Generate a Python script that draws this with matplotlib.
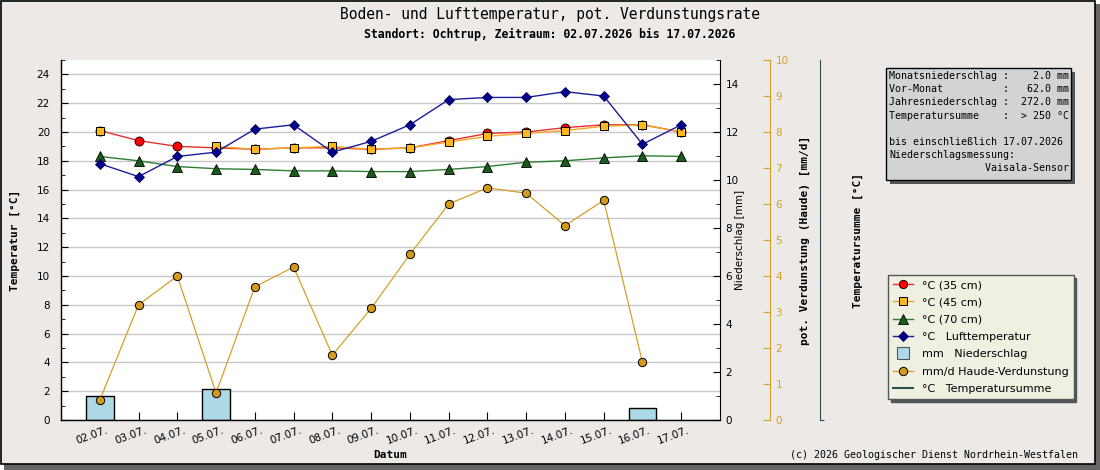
import numpy as np
import matplotlib
matplotlib.use("Agg")
import matplotlib.pyplot as plt
from matplotlib.lines import Line2D
from matplotlib.patches import Rectangle
from matplotlib.transforms import ScaledTranslation

# daily values 02.07. - 17.07.
days = ["02.07.", "03.07.", "04.07.", "05.07.", "06.07.", "07.07.", "08.07.", "09.07.",
        "10.07.", "11.07.", "12.07.", "13.07.", "14.07.", "15.07.", "16.07.", "17.07."]
t35 = [20.1, 19.4, 19.0, 18.9, 18.8, 18.9, 18.9, 18.8, 18.9, 19.4, 19.9, 20.0, 20.3, 20.5, 20.5, 20.0]
t45 = [20.1, np.nan, np.nan, 19.0, 18.8, 18.9, 19.0, 18.8, 18.9, 19.3, 19.7, 19.9, 20.1, 20.4, 20.5, 20.0]
t70 = [18.3, 18.0, 17.6, 17.45, 17.4, 17.3, 17.3, 17.25, 17.25, 17.4, 17.6, 17.9, 18.0, 18.2, 18.35, 18.3]
t_air = [17.8, 16.9, 18.3, 18.6, 20.2, 20.5, 18.6, 19.35, 20.5, 22.25, 22.4, 22.4, 22.8, 22.5, 19.15, 20.5]
precip = [1.0, 0, 0, 1.3, 0, 0, 0, 0, 0, 0, 0, 0, 0, 0, 0.5, 0]
evap = [0.55, 3.2, 4.0, 0.75, 3.7, 4.25, 1.8, 3.1, 4.6, 6.0, 6.45, 6.3, 5.4, 6.1, 1.6, np.nan]

info_lines = [
    "Monatsniederschlag :    2.0 mm",
    "Vor-Monat          :   62.0 mm",
    "Jahresniederschlag :  272.0 mm",
    "Temperatursumme    :  > 250 °C",
    "",
    "bis einschließlich 17.07.2026",
    "Niederschlagsmessung:",
    "                Vaisala-Sensor",
]

BG = "#ece9e7"
GOLD = "#d4a028"
MONO = "DejaVu Sans Mono"

W, H = 1100, 470
fig = plt.figure(figsize=(11, 4.7), dpi=100)
fig.patch.set_facecolor("white")

# page frame with drop shadow
fig.add_artist(Rectangle((4 / W, 0), 1 - 4 / W, 1 - 4 / H, transform=fig.transFigure,
                         facecolor="#666666", edgecolor="none", zorder=-20))
fig.add_artist(Rectangle((0.5 / W, 6 / H), 1094.5 / W, 463.5 / H, transform=fig.transFigure,
                         facecolor=BG, edgecolor="black", lw=1.2, zorder=-19))

x = np.arange(len(days))

ax = fig.add_axes([61 / W, 50 / H, 659 / W, 360 / H])
ax.set_facecolor("white")
ax.set_xlim(-1, 16)
ax.set_ylim(0, 25)
ax.set_yticks(np.arange(0, 25, 2))
ax.set_yticks(np.arange(1, 26, 2), minor=True)
ax.grid(axis="y", which="major", color="#c8c8c8", lw=1)
ax.set_axisbelow(True)
ax.spines["top"].set_visible(False)
ax.spines["right"].set_visible(False)
ax.tick_params(axis="y", which="major", direction="in", length=5, labelsize=7.5, pad=8)
ax.tick_params(axis="y", which="minor", direction="in", length=3)
ax.tick_params(axis="x", direction="in", length=6, labelsize=7.5, pad=4)
ax.set_xticks(x)
ax.set_xticklabels(days, rotation=20, ha="right", rotation_mode="anchor")
for lab in ax.get_xticklabels():
    lab.set_transform(lab.get_transform() + ScaledTranslation(6 / 100, 0, fig.dpi_scale_trans))
ax.set_xlabel("Datum", family=MONO, weight="bold", fontsize=8, labelpad=3)
ax.set_ylabel("Temperatur [°C]", family=MONO, weight="bold", fontsize=8)
ax.yaxis.set_label_coords(-0.062, 0.5)

# precipitation axis
axp = ax.twinx()
axp.set_ylim(0, 15)
axp.set_yticks(np.arange(0, 15, 2))
axp.set_yticks(np.arange(1, 16, 2), minor=True)
axp.tick_params(which="major", direction="in", length=5, labelsize=7.5, pad=4)
axp.tick_params(which="minor", direction="in", length=3)
axp.spines["top"].set_visible(False)
axp.set_ylabel("Niederschlag [mm]", fontsize=7.5)
axp.yaxis.set_label_coords(1.0235, 0.5)
px = [i for i, v in enumerate(precip) if v > 0]
pv = [v for v in precip if v > 0]
axp.bar(px, pv, width=0.72, color="#add8e6", edgecolor="black", lw=1, zorder=2)

# evaporation axis
axe = ax.twinx()
axe.spines["right"].set_position(("axes", 1.0759))
axe.spines["right"].set_color(GOLD)
axe.spines["top"].set_visible(False)
axe.set_ylim(0, 10)
axe.set_yticks(np.arange(0, 11, 1))
axe.tick_params(direction="in", length=5, color=GOLD, labelcolor=GOLD, labelsize=7.5, pad=4)
axe.set_ylabel("pot. Verdunstung (Haude) [mm/d]", family=MONO, weight="bold", fontsize=8)
axe.yaxis.set_label_coords(1.1214, 0.5)
axe.plot(x, evap, color=GOLD, lw=0.9, marker="o", ms=6, mfc="#d49a1c", mec="black", mew=0.7)

# temperature sum axis (no data shown)
axs = ax.twinx()
axs.spines["right"].set_position(("axes", 1.1517))
axs.spines["right"].set_color("#2f4f4f")
axs.spines["top"].set_visible(False)
axs.set_ylim(0, 1)
axs.set_yticks([0])
axs.set_yticklabels([""])
axs.tick_params(direction="out", length=3, color="#2f4f4f")
axs.set_ylabel("Temperatursumme [°C]", family=MONO, weight="bold", fontsize=8)
axs.yaxis.set_label_coords(1.2018, 0.5)

# soil and air temperatures on top
axt = ax.twinx()
axt.set_ylim(0, 25)
axt.axis("off")
axt.plot(x, t35, color="#e83030", lw=1, marker="o", ms=6.5, mfc="#ff0000", mec="black", mew=0.6)
axt.plot(x, t45, color="#f5a623", lw=1, marker="s", ms=6, mfc="#ffb81c", mec="black", mew=0.7)
axt.plot(x, t70, color="#2e7d32", lw=1, marker="^", ms=6.5, mfc="#1a5c1a", mec="black", mew=0.6)
axt.plot(x, t_air, color="#1c1c9c", lw=1, marker="D", ms=5, mfc="#00008b", mec="#00005a", mew=0.6)

# titles
fig.text(0.5, 1 - 15 / H, "Boden- und Lufttemperatur, pot. Verdunstungsrate",
         ha="center", va="center", family=MONO, fontsize=10.5)
fig.text(0.5, 1 - 34 / H, "Standort: Ochtrup, Zeitraum: 02.07.2026 bis 17.07.2026",
         ha="center", va="center", family=MONO, weight="bold", fontsize=8.3)
fig.text(1078 / W, 1 - 455 / H, "(c) 2026 Geologischer Dienst Nordrhein-Westfalen",
         ha="right", va="center", family=MONO, fontsize=7.2)

# info box
fig.add_artist(Rectangle((890 / W, 1 - 184 / H), 185 / W, 112 / H, transform=fig.transFigure,
                         facecolor="#555555", edgecolor="none"))
fig.add_artist(Rectangle((886 / W, 1 - 180 / H), 185 / W, 112 / H, transform=fig.transFigure,
                         facecolor="#d3d3d3", edgecolor="black", lw=1))
fig.text(889 / W, 1 - 71 / H, "\n".join(info_lines), ha="left", va="top",
         family=MONO, fontsize=7.2, linespacing=1.4)

# legend
handles = [
    Line2D([], [], color="#e83030", lw=1, marker="o", ms=6, mfc="#ff0000", mec="black", mew=0.6),
    Line2D([], [], color="#f5a623", lw=1, marker="s", ms=6, mfc="#ffb81c", mec="black", mew=0.7),
    Line2D([], [], color="#2e7d32", lw=1, marker="^", ms=6.5, mfc="#1a5c1a", mec="black", mew=0.6),
    Line2D([], [], color="#1c1c9c", lw=1, marker="D", ms=5, mfc="#00008b", mec="#00005a", mew=0.6),
    Line2D([], [], color="none", marker="s", ms=8, mfc="#add8e6", mec="#555555", mew=0.8),
    Line2D([], [], color=GOLD, lw=1, marker="o", ms=6, mfc="#d49a1c", mec="black", mew=0.7),
    Line2D([], [], color="#2f4f4f", lw=1.5),
]
labels = ["°C (35 cm)", "°C (45 cm)", "°C (70 cm)", "°C   Lufttemperatur", "mm   Niederschlag",
          "mm/d Haude-Verdunstung", "°C   Temperatursumme"]
leg = fig.legend(handles, labels, loc="upper left", bbox_to_anchor=(888 / W, 1 - 275 / H),
                 fontsize=8, frameon=True, fancybox=False, shadow={"color": "#555555", "alpha": 1},
                 facecolor="#efefe2", edgecolor="#555555", framealpha=1, borderaxespad=0,
                 handlelength=1.8, handletextpad=0.8, labelspacing=0.66, borderpad=0.45)
leg.get_frame().set_linewidth(1)

fig.savefig("out.png", dpi=100, facecolor=fig.get_facecolor())
